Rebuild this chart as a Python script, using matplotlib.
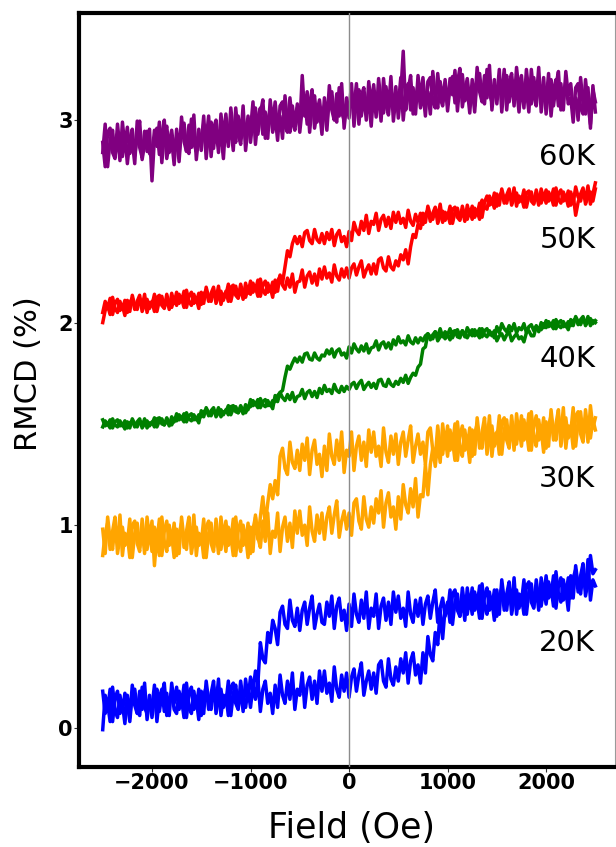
import numpy as np
import matplotlib
matplotlib.use("Agg")
import matplotlib.pyplot as plt

# Magnetic field sweep (Oe), 25 Oe steps from -2500 to +2500
field = np.linspace(-2500, 2500, 201)

temperatures = ["20K", "30K", "40K", "50K", "60K"]
colors = ["blue", "orange", "green", "red", "purple"]

# RMCD (%) per temperature; "up" = field swept upward, "down" = swept downward
# (both listed in order of increasing field)
rmcd_20K_up = [
    -0.01, 0.16, 0.09, 0.19, 0.03, 0.14, 0.18, 0.07, 0.12, 0.02,
    0.16, 0.05, 0.21, 0.11, 0.07, 0.18, 0.09, 0.22, 0.04, 0.14,
    0.10, 0.21, 0.03, 0.15, 0.19, 0.08, 0.17, 0.06, 0.22, 0.12,
    0.20, 0.09, 0.14, 0.05, 0.22, 0.11, 0.07, 0.18, 0.10, 0.19,
    0.06, 0.16, 0.20, 0.09, 0.17, 0.23, 0.07, 0.14, 0.19, 0.10,
    0.16, 0.06, 0.20, 0.22, 0.12, 0.09, 0.23, 0.13, 0.10, 0.19,
    0.10, 0.21, 0.14, 0.24, 0.08, 0.19, 0.23, 0.12, 0.17, 0.07,
    0.21, 0.10, 0.26, 0.16, 0.12, 0.23, 0.14, 0.27, 0.09, 0.19,
    0.16, 0.27, 0.10, 0.21, 0.25, 0.14, 0.23, 0.12, 0.28, 0.18,
    0.28, 0.17, 0.22, 0.13, 0.30, 0.19, 0.15, 0.26, 0.18, 0.27,
    0.15, 0.25, 0.29, 0.18, 0.26, 0.32, 0.16, 0.23, 0.28, 0.19,
    0.27, 0.17, 0.31, 0.33, 0.23, 0.20, 0.34, 0.24, 0.21, 0.30,
    0.23, 0.34, 0.27, 0.37, 0.22, 0.33, 0.37, 0.26, 0.31, 0.22,
    0.37, 0.27, 0.45, 0.36, 0.33, 0.47, 0.41, 0.58, 0.44, 0.59,
    0.57, 0.68, 0.51, 0.62, 0.66, 0.55, 0.64, 0.53, 0.69, 0.59,
    0.69, 0.58, 0.63, 0.54, 0.71, 0.60, 0.56, 0.67, 0.59, 0.68,
    0.55, 0.65, 0.69, 0.58, 0.66, 0.72, 0.56, 0.63, 0.68, 0.59,
    0.65, 0.56, 0.70, 0.72, 0.62, 0.59, 0.73, 0.63, 0.60, 0.69,
    0.61, 0.72, 0.65, 0.75, 0.59, 0.70, 0.74, 0.63, 0.68, 0.58,
    0.75, 0.64, 0.80, 0.70, 0.66, 0.77, 0.68, 0.83, 0.63, 0.73,
    0.70,
]
rmcd_20K_down = [
    0.18, 0.07, 0.12, 0.03, 0.20, 0.09, 0.05, 0.16, 0.08, 0.17,
    0.13, 0.03, 0.17, 0.19, 0.09, 0.06, 0.20, 0.10, 0.07, 0.16,
    0.05, 0.15, 0.19, 0.08, 0.16, 0.22, 0.06, 0.13, 0.18, 0.09,
    0.07, 0.18, 0.11, 0.21, 0.05, 0.16, 0.20, 0.09, 0.14, 0.04,
    0.18, 0.07, 0.23, 0.13, 0.09, 0.20, 0.11, 0.24, 0.06, 0.16,
    0.12, 0.23, 0.06, 0.17, 0.21, 0.10, 0.19, 0.08, 0.24, 0.14,
    0.25, 0.18, 0.28, 0.22, 0.42, 0.34, 0.32, 0.47, 0.42, 0.53,
    0.49, 0.41, 0.57, 0.60, 0.51, 0.49, 0.63, 0.53, 0.50, 0.59,
    0.48, 0.58, 0.62, 0.51, 0.59, 0.65, 0.49, 0.56, 0.61, 0.52,
    0.51, 0.62, 0.55, 0.65, 0.49, 0.60, 0.64, 0.53, 0.58, 0.48,
    0.61, 0.50, 0.66, 0.56, 0.52, 0.63, 0.54, 0.67, 0.49, 0.59,
    0.55, 0.66, 0.49, 0.60, 0.64, 0.53, 0.62, 0.51, 0.67, 0.57,
    0.65, 0.54, 0.59, 0.50, 0.67, 0.56, 0.52, 0.63, 0.55, 0.64,
    0.51, 0.61, 0.65, 0.54, 0.62, 0.68, 0.52, 0.59, 0.64, 0.55,
    0.62, 0.52, 0.66, 0.68, 0.58, 0.55, 0.69, 0.59, 0.56, 0.65,
    0.56, 0.67, 0.60, 0.70, 0.54, 0.65, 0.69, 0.58, 0.63, 0.53,
    0.68, 0.56, 0.73, 0.63, 0.58, 0.70, 0.60, 0.74, 0.56, 0.66,
    0.62, 0.73, 0.56, 0.67, 0.71, 0.60, 0.69, 0.58, 0.74, 0.64,
    0.75, 0.64, 0.69, 0.60, 0.77, 0.66, 0.62, 0.73, 0.65, 0.74,
    0.64, 0.74, 0.78, 0.67, 0.75, 0.81, 0.65, 0.72, 0.85, 0.76,
    0.78,
]

rmcd_30K_up = [
    0.98, 0.86, 1.04, 0.93, 0.88, 1.01, 0.91, 1.05, 0.85, 0.96,
    0.91, 1.03, 0.84, 0.96, 1.01, 0.89, 0.98, 0.86, 1.04, 0.93,
    1.02, 0.80, 0.95, 0.85, 1.04, 0.92, 0.87, 1.00, 0.91, 1.01,
    0.85, 0.96, 1.01, 0.89, 0.97, 1.04, 0.86, 0.94, 0.99, 0.90,
    0.95, 0.84, 0.99, 1.02, 0.91, 0.87, 1.03, 0.92, 0.88, 0.98,
    0.87, 0.99, 0.92, 1.03, 0.85, 0.97, 1.02, 0.90, 0.95, 0.84,
    0.99, 0.87, 1.05, 0.94, 0.89, 1.02, 0.92, 1.06, 0.86, 0.97,
    0.94, 1.06, 0.87, 0.99, 1.04, 0.92, 1.01, 0.89, 1.07, 0.96,
    1.07, 0.95, 1.00, 0.90, 1.09, 0.97, 0.92, 1.05, 0.96, 1.06,
    0.93, 1.04, 1.09, 0.96, 1.05, 1.12, 0.94, 1.02, 1.07, 0.98,
    1.06, 0.95, 1.11, 1.13, 1.02, 0.98, 1.14, 1.03, 0.99, 1.09,
    1.01, 1.13, 1.06, 1.17, 0.99, 1.11, 1.16, 1.04, 1.09, 0.98,
    1.14, 1.03, 1.20, 1.10, 1.06, 1.18, 1.09, 1.23, 1.04, 1.15,
    1.14, 1.30, 1.15, 1.30, 1.38, 1.29, 1.41, 1.31, 1.50, 1.39,
    1.49, 1.37, 1.42, 1.32, 1.51, 1.39, 1.34, 1.47, 1.38, 1.48,
    1.34, 1.45, 1.50, 1.38, 1.46, 1.53, 1.35, 1.43, 1.49, 1.39,
    1.46, 1.35, 1.51, 1.53, 1.42, 1.38, 1.54, 1.43, 1.40, 1.49,
    1.39, 1.52, 1.44, 1.55, 1.37, 1.49, 1.54, 1.42, 1.47, 1.36,
    1.51, 1.39, 1.57, 1.46, 1.42, 1.54, 1.44, 1.58, 1.38, 1.49,
    1.46, 1.58, 1.39, 1.51, 1.56, 1.44, 1.53, 1.41, 1.59, 1.48,
    1.53,
]
rmcd_30K_down = [
    0.85, 0.96, 1.01, 0.88, 0.97, 1.04, 0.86, 0.94, 0.99, 0.90,
    0.95, 0.84, 1.00, 1.02, 0.91, 0.87, 1.03, 0.92, 0.88, 0.98,
    0.87, 0.99, 0.92, 1.03, 0.85, 0.97, 1.02, 0.90, 0.95, 0.84,
    0.98, 0.86, 1.04, 0.93, 0.88, 1.01, 0.91, 1.05, 0.85, 0.96,
    0.91, 1.03, 0.84, 0.96, 1.01, 0.89, 0.98, 0.86, 1.04, 0.93,
    1.02, 0.90, 0.95, 0.85, 1.04, 0.92, 0.87, 1.00, 0.91, 1.01,
    0.86, 0.98, 1.04, 0.93, 1.04, 1.14, 1.00, 1.11, 1.20, 1.13,
    1.22, 1.15, 1.34, 1.38, 1.28, 1.25, 1.41, 1.31, 1.28, 1.37,
    1.27, 1.40, 1.32, 1.43, 1.25, 1.37, 1.42, 1.30, 1.35, 1.24,
    1.39, 1.27, 1.45, 1.34, 1.30, 1.42, 1.32, 1.46, 1.26, 1.37,
    1.34, 1.46, 1.27, 1.39, 1.44, 1.32, 1.41, 1.29, 1.47, 1.36,
    1.46, 1.34, 1.39, 1.29, 1.48, 1.36, 1.31, 1.44, 1.35, 1.45,
    1.30, 1.41, 1.46, 1.34, 1.42, 1.49, 1.31, 1.39, 1.45, 1.35,
    1.41, 1.30, 1.46, 1.48, 1.37, 1.33, 1.49, 1.38, 1.35, 1.44,
    1.34, 1.47, 1.39, 1.50, 1.32, 1.44, 1.49, 1.37, 1.42, 1.31,
    1.47, 1.35, 1.53, 1.42, 1.38, 1.50, 1.40, 1.54, 1.34, 1.45,
    1.42, 1.54, 1.35, 1.47, 1.52, 1.40, 1.49, 1.37, 1.55, 1.44,
    1.54, 1.42, 1.47, 1.37, 1.56, 1.44, 1.39, 1.52, 1.43, 1.53,
    1.38, 1.49, 1.54, 1.42, 1.50, 1.57, 1.39, 1.47, 1.53, 1.43,
    1.49, 1.38, 1.54, 1.56, 1.45, 1.41, 1.57, 1.46, 1.43, 1.52,
    1.47,
]

rmcd_40K_up = [
    1.485, 1.515, 1.495, 1.52, 1.48, 1.51, 1.52, 1.49, 1.50, 1.475,
    1.51, 1.48, 1.525, 1.50, 1.485, 1.515, 1.49, 1.525, 1.48, 1.505,
    1.50, 1.53, 1.485, 1.515, 1.525, 1.495, 1.52, 1.49, 1.535, 1.51,
    1.55, 1.52, 1.53, 1.51, 1.555, 1.525, 1.515, 1.545, 1.52, 1.545,
    1.535, 1.56, 1.57, 1.54, 1.565, 1.58, 1.535, 1.555, 1.57, 1.545,
    1.57, 1.545, 1.585, 1.59, 1.56, 1.555, 1.59, 1.565, 1.555, 1.58,
    1.585, 1.615, 1.595, 1.62, 1.58, 1.61, 1.62, 1.59, 1.60, 1.575,
    1.64, 1.61, 1.655, 1.63, 1.615, 1.645, 1.62, 1.655, 1.61, 1.635,
    1.64, 1.67, 1.625, 1.655, 1.665, 1.635, 1.66, 1.63, 1.675, 1.65,
    1.69, 1.66, 1.67, 1.65, 1.695, 1.665, 1.655, 1.685, 1.66, 1.685,
    1.67, 1.695, 1.705, 1.675, 1.70, 1.715, 1.67, 1.69, 1.705, 1.68,
    1.70, 1.675, 1.715, 1.72, 1.69, 1.685, 1.72, 1.695, 1.685, 1.71,
    1.695, 1.725, 1.705, 1.74, 1.70, 1.73, 1.75, 1.74, 1.78, 1.795,
    1.87, 1.88, 1.945, 1.93, 1.92, 1.955, 1.93, 1.97, 1.93, 1.955,
    1.94, 1.97, 1.925, 1.955, 1.965, 1.935, 1.96, 1.93, 1.975, 1.95,
    1.965, 1.935, 1.945, 1.925, 1.97, 1.94, 1.93, 1.96, 1.935, 1.96,
    1.91, 1.935, 1.945, 1.915, 1.94, 1.955, 1.91, 1.93, 1.945, 1.92,
    1.93, 1.905, 1.95, 1.96, 1.935, 1.935, 1.98, 1.965, 1.965, 1.995,
    1.975, 2.005, 1.985, 2.01, 1.97, 2.00, 2.01, 1.98, 1.99, 1.965,
    2.015, 1.985, 2.03, 2.005, 1.99, 2.02, 1.995, 2.03, 1.985, 2.01,
    2.00,
]
rmcd_40K_down = [
    1.52, 1.49, 1.50, 1.48, 1.525, 1.495, 1.485, 1.515, 1.49, 1.515,
    1.48, 1.505, 1.515, 1.485, 1.51, 1.525, 1.48, 1.50, 1.515, 1.49,
    1.51, 1.485, 1.525, 1.53, 1.50, 1.495, 1.53, 1.505, 1.495, 1.52,
    1.515, 1.545, 1.525, 1.55, 1.51, 1.54, 1.55, 1.52, 1.53, 1.505,
    1.565, 1.535, 1.58, 1.555, 1.54, 1.57, 1.545, 1.58, 1.535, 1.56,
    1.56, 1.59, 1.545, 1.575, 1.585, 1.555, 1.58, 1.55, 1.595, 1.57,
    1.62, 1.59, 1.60, 1.58, 1.625, 1.595, 1.585, 1.615, 1.59, 1.615,
    1.61, 1.64, 1.655, 1.665, 1.73, 1.785, 1.77, 1.80, 1.825, 1.805,
    1.83, 1.805, 1.845, 1.85, 1.82, 1.815, 1.85, 1.825, 1.815, 1.84,
    1.835, 1.865, 1.845, 1.87, 1.83, 1.86, 1.87, 1.84, 1.85, 1.825,
    1.88, 1.85, 1.895, 1.87, 1.855, 1.885, 1.86, 1.895, 1.85, 1.875,
    1.88, 1.91, 1.865, 1.895, 1.905, 1.875, 1.90, 1.87, 1.915, 1.89,
    1.93, 1.90, 1.91, 1.89, 1.935, 1.905, 1.895, 1.925, 1.90, 1.925,
    1.91, 1.935, 1.945, 1.915, 1.94, 1.955, 1.91, 1.93, 1.945, 1.92,
    1.94, 1.915, 1.955, 1.96, 1.93, 1.925, 1.96, 1.935, 1.925, 1.95,
    1.935, 1.965, 1.945, 1.97, 1.93, 1.96, 1.97, 1.94, 1.95, 1.925,
    1.98, 1.95, 1.995, 1.97, 1.955, 1.985, 1.96, 1.995, 1.95, 1.975,
    1.965, 1.995, 1.95, 1.98, 1.99, 1.96, 1.985, 1.955, 2.00, 1.975,
    2.01, 1.98, 1.99, 1.97, 2.015, 1.985, 1.975, 2.005, 1.98, 2.005,
    1.985, 2.01, 2.02, 1.99, 2.015, 2.03, 1.985, 2.005, 2.02, 1.995,
    2.01,
]

rmcd_50K_up = [
    2.05, 2.105, 2.07, 2.12, 2.04, 2.095, 2.115, 2.06, 2.085, 2.035,
    2.11, 2.055, 2.135, 2.085, 2.065, 2.12, 2.075, 2.14, 2.05, 2.10,
    2.085, 2.14, 2.055, 2.11, 2.13, 2.075, 2.12, 2.065, 2.145, 2.095,
    2.15, 2.095, 2.12, 2.075, 2.16, 2.105, 2.085, 2.14, 2.10, 2.145,
    2.09, 2.14, 2.16, 2.105, 2.145, 2.175, 2.095, 2.13, 2.155, 2.11,
    2.155, 2.105, 2.175, 2.185, 2.135, 2.12, 2.19, 2.14, 2.125, 2.17,
    2.14, 2.195, 2.16, 2.21, 2.13, 2.185, 2.205, 2.15, 2.175, 2.125,
    2.21, 2.155, 2.235, 2.185, 2.165, 2.22, 2.175, 2.24, 2.15, 2.20,
    2.205, 2.26, 2.175, 2.23, 2.25, 2.195, 2.24, 2.185, 2.265, 2.215,
    2.275, 2.22, 2.245, 2.20, 2.285, 2.23, 2.21, 2.265, 2.225, 2.27,
    2.22, 2.27, 2.29, 2.235, 2.275, 2.305, 2.225, 2.26, 2.285, 2.24,
    2.29, 2.24, 2.31, 2.32, 2.27, 2.255, 2.325, 2.275, 2.26, 2.305,
    2.28, 2.335, 2.31, 2.36, 2.29, 2.375, 2.435, 2.42, 2.485, 2.465,
    2.54, 2.495, 2.575, 2.53, 2.51, 2.565, 2.52, 2.585, 2.495, 2.545,
    2.52, 2.575, 2.49, 2.545, 2.565, 2.51, 2.555, 2.50, 2.58, 2.53,
    2.575, 2.52, 2.55, 2.51, 2.605, 2.57, 2.56, 2.625, 2.585, 2.64,
    2.575, 2.625, 2.645, 2.59, 2.63, 2.66, 2.58, 2.615, 2.64, 2.595,
    2.62, 2.57, 2.64, 2.65, 2.60, 2.585, 2.655, 2.605, 2.59, 2.635,
    2.59, 2.645, 2.61, 2.66, 2.58, 2.635, 2.655, 2.60, 2.625, 2.575,
    2.645, 2.59, 2.67, 2.62, 2.60, 2.655, 2.61, 2.675, 2.585, 2.635,
    2.69,
]
rmcd_50K_down = [
    2.00, 2.06, 2.085, 2.04, 2.125, 2.07, 2.05, 2.105, 2.065, 2.11,
    2.05, 2.10, 2.12, 2.065, 2.105, 2.135, 2.055, 2.09, 2.115, 2.07,
    2.105, 2.055, 2.125, 2.135, 2.085, 2.07, 2.14, 2.09, 2.075, 2.12,
    2.085, 2.14, 2.105, 2.155, 2.075, 2.13, 2.15, 2.095, 2.12, 2.07,
    2.15, 2.095, 2.175, 2.125, 2.105, 2.16, 2.115, 2.18, 2.09, 2.14,
    2.135, 2.19, 2.105, 2.16, 2.18, 2.125, 2.17, 2.115, 2.195, 2.145,
    2.205, 2.15, 2.175, 2.13, 2.215, 2.16, 2.14, 2.195, 2.155, 2.20,
    2.15, 2.205, 2.23, 2.195, 2.275, 2.355, 2.325, 2.39, 2.425, 2.39,
    2.425, 2.375, 2.445, 2.455, 2.405, 2.39, 2.46, 2.41, 2.395, 2.44,
    2.39, 2.445, 2.41, 2.46, 2.38, 2.435, 2.455, 2.40, 2.425, 2.375,
    2.45, 2.405, 2.495, 2.455, 2.435, 2.50, 2.455, 2.53, 2.44, 2.50,
    2.485, 2.54, 2.455, 2.51, 2.53, 2.475, 2.52, 2.465, 2.545, 2.495,
    2.545, 2.49, 2.515, 2.47, 2.555, 2.50, 2.48, 2.535, 2.495, 2.54,
    2.485, 2.535, 2.555, 2.50, 2.54, 2.57, 2.49, 2.525, 2.55, 2.505,
    2.54, 2.49, 2.56, 2.57, 2.52, 2.505, 2.575, 2.525, 2.51, 2.555,
    2.51, 2.565, 2.535, 2.59, 2.52, 2.595, 2.625, 2.58, 2.605, 2.565,
    2.635, 2.58, 2.66, 2.61, 2.59, 2.645, 2.60, 2.665, 2.575, 2.625,
    2.60, 2.655, 2.57, 2.625, 2.645, 2.59, 2.635, 2.58, 2.66, 2.61,
    2.655, 2.60, 2.625, 2.58, 2.665, 2.61, 2.59, 2.645, 2.605, 2.65,
    2.58, 2.63, 2.53, 2.595, 2.635, 2.665, 2.585, 2.62, 2.645, 2.60,
    2.66,
]

rmcd_60K_up = [
    2.84, 2.98, 2.77, 2.90, 2.95, 2.82, 2.93, 2.80, 2.99, 2.87,
    2.965, 2.835, 2.895, 2.785, 2.995, 2.865, 2.815, 2.945, 2.845, 2.955,
    2.70, 2.91, 2.96, 2.83, 2.93, 3.00, 2.81, 2.89, 2.95, 2.84,
    2.915, 2.795, 2.965, 2.985, 2.865, 2.835, 3.005, 2.885, 2.845, 2.955,
    2.85, 2.98, 2.90, 3.02, 2.82, 2.96, 3.00, 2.87, 2.93, 2.81,
    3.00, 2.87, 3.06, 2.94, 2.89, 3.02, 2.91, 3.07, 2.85, 2.97,
    2.95, 3.09, 2.88, 3.01, 3.06, 2.93, 3.04, 2.91, 3.10, 2.98,
    3.09, 2.96, 3.02, 2.91, 3.12, 2.99, 2.94, 3.07, 2.97, 3.08,
    2.94, 3.06, 3.11, 2.98, 3.08, 3.15, 2.96, 3.04, 3.10, 2.99,
    3.07, 2.95, 3.12, 3.14, 3.02, 2.99, 3.16, 3.04, 3.00, 3.11,
    3.01, 3.14, 3.06, 3.18, 2.98, 3.12, 3.16, 3.03, 3.09, 2.97,
    3.145, 3.015, 3.205, 3.085, 3.035, 3.165, 3.055, 3.215, 2.995, 3.115,
    3.07, 3.21, 3.00, 3.13, 3.18, 3.05, 3.16, 3.03, 3.22, 3.10,
    3.21, 3.08, 3.14, 3.03, 3.24, 3.11, 3.06, 3.19, 3.09, 3.20,
    3.045, 3.165, 3.215, 3.085, 3.185, 3.255, 3.065, 3.145, 3.205, 3.095,
    3.16, 3.04, 3.21, 3.23, 3.11, 3.08, 3.25, 3.13, 3.09, 3.20,
    3.08, 3.21, 3.13, 3.25, 3.05, 3.19, 3.23, 3.10, 3.16, 3.04,
    3.19, 3.06, 3.25, 3.13, 3.08, 3.21, 3.10, 3.26, 3.04, 3.16,
    3.09, 3.23, 3.02, 3.15, 3.20, 3.07, 3.18, 3.05, 3.24, 3.12,
    3.18, 3.05, 3.11, 3.00, 3.21, 3.08, 3.03, 3.16, 2.96, 3.17,
    3.04,
]
rmcd_60K_down = [
    2.89, 2.77, 2.94, 2.96, 2.84, 2.81, 2.98, 2.86, 2.82, 2.93,
    2.785, 2.905, 2.955, 2.825, 2.925, 2.995, 2.805, 2.885, 2.945, 2.835,
    2.82, 2.95, 2.87, 2.99, 2.79, 2.93, 2.97, 2.84, 2.90, 2.78,
    2.955, 2.825, 3.015, 2.895, 2.845, 2.975, 2.865, 3.025, 2.805, 2.925,
    2.88, 3.02, 2.81, 2.94, 2.99, 2.86, 2.97, 2.84, 3.03, 2.91,
    3.03, 2.90, 2.96, 2.85, 3.06, 2.93, 2.88, 3.01, 2.91, 3.02,
    2.89, 3.01, 3.06, 2.93, 3.03, 3.10, 2.91, 2.99, 3.05, 2.94,
    3.02, 2.90, 3.07, 3.09, 2.97, 2.94, 3.11, 2.99, 2.95, 3.06,
    2.97, 3.22, 3.02, 3.14, 2.94, 3.08, 3.12, 2.99, 3.05, 2.93,
    3.11, 2.98, 3.17, 3.05, 3.00, 3.13, 3.02, 3.18, 2.96, 3.08,
    3.04, 3.18, 2.97, 3.10, 3.15, 3.02, 3.13, 3.00, 3.19, 3.07,
    3.175, 3.045, 3.105, 2.995, 3.205, 3.075, 3.025, 3.155, 3.055, 3.165,
    3.01, 3.13, 3.34, 3.05, 3.15, 3.22, 3.03, 3.11, 3.17, 3.06,
    3.14, 3.02, 3.19, 3.21, 3.09, 3.06, 3.23, 3.11, 3.07, 3.18,
    3.075, 3.205, 3.125, 3.245, 3.045, 3.185, 3.225, 3.095, 3.155, 3.035,
    3.20, 3.07, 3.26, 3.14, 3.09, 3.22, 3.11, 3.27, 3.05, 3.17,
    3.11, 3.25, 3.04, 3.17, 3.22, 3.09, 3.20, 3.07, 3.26, 3.14,
    3.22, 3.09, 3.15, 3.04, 3.25, 3.12, 3.07, 3.20, 3.10, 3.21,
    3.03, 3.15, 3.20, 3.07, 3.17, 3.24, 3.05, 3.13, 3.19, 3.08,
    3.11, 2.99, 3.16, 3.18, 3.06, 3.03, 3.20, 3.08, 2.98, 3.15,
    3.09,
]

# Baseline height (RMCD %) at which each temperature label sits
label_y = [0.38, 1.187, 1.78, 2.368, 2.779]

branches_up = [rmcd_20K_up, rmcd_30K_up, rmcd_40K_up, rmcd_50K_up, rmcd_60K_up]
branches_down = [rmcd_20K_down, rmcd_30K_down, rmcd_40K_down, rmcd_50K_down, rmcd_60K_down]

plt.rcParams["font.family"] = ["DejaVu Sans"]

fig = plt.figure(figsize=(6.16, 8.47), dpi=100)
ax = fig.add_axes([0.1282, 0.0945, 0.8703, 0.8902])

for up, down, col in zip(branches_up, branches_down, colors):
    ax.plot(field, down, color=col, lw=2.5, solid_joinstyle="round", zorder=2)
    ax.plot(field, up, color=col, lw=2.5, solid_joinstyle="round", zorder=2)

for name, yb in zip(temperatures, label_y):
    ax.text(2500, yb, name, ha="right", va="baseline", fontsize=21, color="black", zorder=4)

ax.axvline(0, color="#8c8c8c", lw=1.0, zorder=3)

ax.set_xlim(-2741, 2700)
ax.set_ylim(-0.194, 3.529)
ax.set_xticks([-2000, -1000, 0, 1000, 2000])
ax.set_yticks([0, 1, 2, 3])
ax.tick_params(direction="out", length=3.5, width=0.8, color="#333333", pad=1,
               labelsize=15)
for lab in ax.get_xticklabels() + ax.get_yticklabels():
    lab.set_fontweight("bold")

for side in ["left", "top", "bottom"]:
    ax.spines[side].set_linewidth(3.0)
    ax.spines[side].set_color("black")
ax.spines["right"].set_linewidth(0.8)
ax.spines["right"].set_color("#9a9a9a")

fig.text(29 / 616, 1 - 374 / 847, "RMCD (%)", rotation=90, ha="center", va="center",
         fontsize=22)
fig.text(352 / 616, 1 - 838 / 847, "Field (Oe)", ha="center", va="baseline", fontsize=25)

fig.savefig("out.png", dpi=100)
